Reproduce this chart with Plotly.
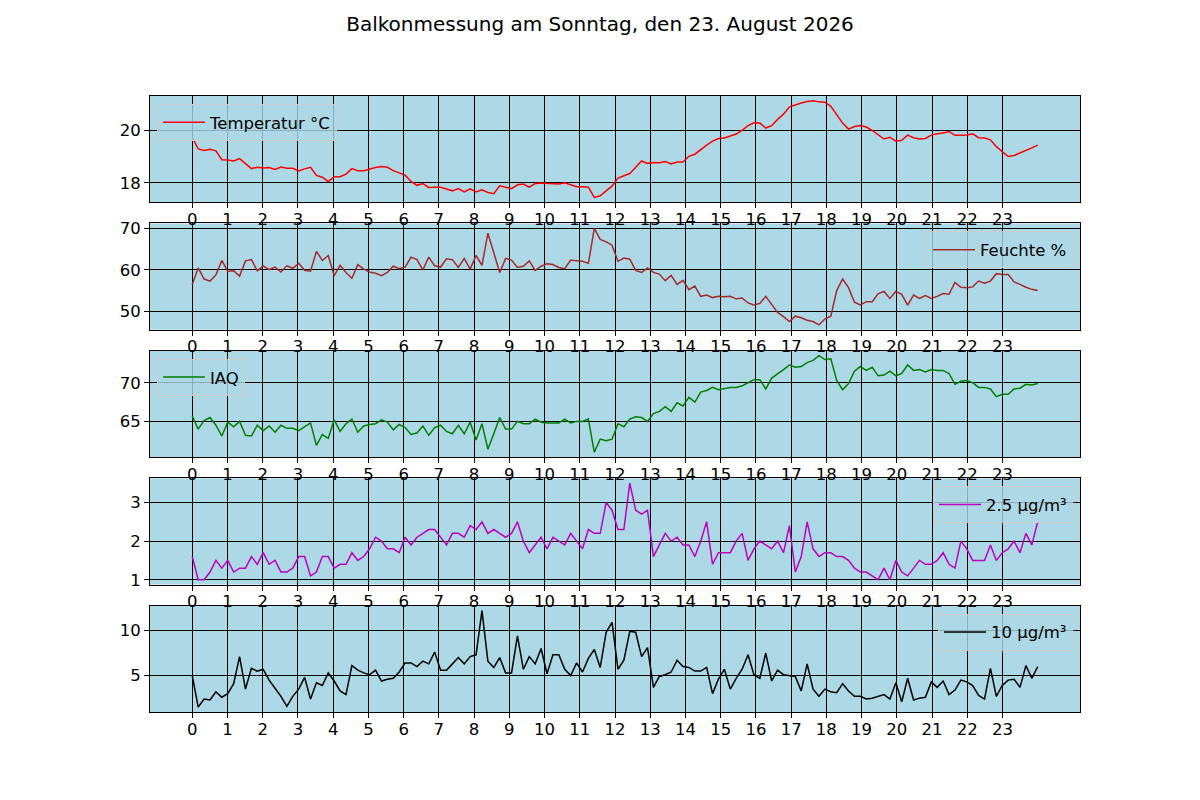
import plotly.graph_objects as go
from plotly.subplots import make_subplots

# 1. DATEN (Messung alle ~10 Minuten, 144 Werte)
ZEIT = [i * 24 / 143 for i in range(144)]
STUNDEN = list(range(24))

TEMPERATUR = [
    19.74, 19.29, 19.23, 19.28, 19.22, 18.88, 18.87, 18.83, 18.92, 18.73,
    18.54, 18.59, 18.56, 18.58, 18.51, 18.60, 18.55, 18.55, 18.45, 18.53,
    18.59, 18.28, 18.21, 18.04, 18.23, 18.23, 18.33, 18.54, 18.46, 18.46,
    18.53, 18.58, 18.62, 18.59, 18.46, 18.38, 18.29, 18.05, 17.90, 17.97,
    17.82, 17.83, 17.83, 17.76, 17.69, 17.78, 17.65, 17.77, 17.65, 17.73,
    17.63, 17.58, 17.88, 17.83, 17.77, 17.92, 17.95, 17.83, 17.97, 17.99,
    17.97, 17.96, 17.95, 18.00, 17.91, 17.85, 17.85, 17.83, 17.44, 17.50,
    17.69, 17.87, 18.18,
    18.26, 18.35, 18.59, 18.83, 18.74, 18.77, 18.76, 18.81, 18.72,
    18.79, 18.79, 19.01, 19.09, 19.28, 19.44, 19.59, 19.69, 19.71, 19.79,
    19.86, 20.00, 20.18, 20.29, 20.28, 20.09, 20.18, 20.42, 20.62, 20.90,
    20.99, 21.05, 21.10, 21.13, 21.09, 21.08, 20.92, 20.59, 20.28, 20.05,
    20.15, 20.19, 20.13, 20.00, 19.83, 19.67, 19.74, 19.59, 19.62, 19.82,
    19.72, 19.67, 19.69, 19.82, 19.87, 19.90, 19.96, 19.81, 19.81, 19.82,
    19.87, 19.72, 19.71, 19.64, 19.38, 19.18, 19.00, 19.04, 19.13, 19.23,
    19.33, 19.44,
]

FEUCHTE = [
    56.5, 60.5, 57.8, 57.3, 58.8, 62.3, 59.7, 59.8, 58.5, 62.2,
    62.5, 59.8, 61.0, 60.1, 60.7, 59.5, 61.0, 60.4, 61.6, 59.9,
    59.7, 64.5, 62.3, 63.5, 58.6, 61.1, 59.4, 58.0, 61.3, 60.2,
    59.5, 59.2, 58.6, 59.4, 60.9, 60.3, 60.7, 63.1, 62.5, 60.0,
    63.1, 61.0, 60.7, 62.7, 62.5, 60.6, 62.8, 60.2, 63.5, 61.1,
    68.9, 64.1, 59.4, 62.8, 62.4, 60.6, 60.9, 62.2, 59.9, 60.9,
    61.5, 61.3, 60.6, 60.3, 62.4, 62.2, 62.1, 61.6, 70.1, 67.4,
    66.8, 66.0, 62.1,
    62.9, 62.6, 59.9, 59.4, 60.5, 59.4, 59.0, 57.4, 58.7, 56.5,
    57.5, 55.2, 56.1, 53.6, 53.9, 53.3, 53.6, 53.5, 53.6, 53.0,
    53.2, 52.0, 51.5, 51.9, 53.6, 51.5, 49.7, 48.7, 47.5, 48.8,
    48.4, 47.8, 47.5, 46.7, 48.1, 48.8, 55.0, 57.8, 55.7, 52.2,
    51.5, 52.3, 52.3, 54.2, 54.8, 53.1, 54.8, 54.1, 51.5, 53.9,
    53.1, 53.8, 53.1, 53.6, 54.3, 54.1, 57.0, 55.8, 55.7, 55.9,
    57.3, 56.8, 57.3, 59.1, 58.9, 58.9, 57.1, 56.5, 55.8, 55.3,
    55.0,
]

IAQ = [
    65.7, 64.0, 65.1, 65.5, 64.5, 63.1, 64.9, 64.3, 65.0, 63.2,
    63.1, 64.5, 63.8, 64.4, 63.6, 64.5, 64.1, 64.1, 63.8, 64.3,
    64.8, 61.9, 63.3, 62.8, 65.2, 63.7, 64.7, 65.3, 63.6, 64.4,
    64.6, 64.7, 65.2, 64.9, 63.9, 64.6, 64.2, 63.3, 63.5, 64.4,
    63.2, 64.2, 64.5, 63.7, 63.4, 64.5, 63.4, 64.9, 62.6, 64.7,
    61.4, 63.4, 65.5, 64.0, 64.0, 65.0, 64.7, 64.7, 65.3, 64.9,
    64.8, 64.8, 64.8, 65.3, 64.8, 65.0, 65.0, 65.3, 61.0, 62.7,
    62.5, 62.7, 64.7,
    64.3, 65.3, 65.6, 65.5, 65.0, 66.0, 66.3, 66.9, 66.3,
    67.4, 67.0, 68.1, 67.5, 68.8, 69.0, 69.4, 69.1, 69.3, 69.4,
    69.4, 69.6, 70.0, 70.4, 70.4, 69.2, 70.6, 71.1, 71.7, 72.3,
    72.0, 72.1, 72.6, 72.9, 73.5, 73.0, 73.1, 70.3, 69.1, 69.9,
    71.5, 72.1, 71.6, 72.0, 70.9, 71.0, 71.5, 70.9, 71.2, 72.3,
    71.6, 71.7, 71.4, 71.7, 71.6, 71.6, 71.2, 69.8, 70.2, 70.3,
    70.0, 69.4, 69.4, 69.2, 68.2, 68.5, 68.5, 69.2, 69.3, 69.8,
    69.7, 69.9,
]

PM25 = [
    1.6, 1.0, 1.0, 1.2, 1.5, 1.3, 1.5, 1.2, 1.3, 1.3,
    1.6, 1.4, 1.7, 1.4, 1.5, 1.2, 1.2, 1.3, 1.6, 1.6,
    1.1, 1.2, 1.6, 1.6, 1.3, 1.4, 1.4, 1.7, 1.5, 1.6,
    1.8, 2.1, 2.0, 1.8, 1.8, 1.7, 2.1, 1.9, 2.1, 2.2,
    2.3, 2.3, 2.1, 1.9, 2.2, 2.2, 2.1, 2.4, 2.3, 2.5,
    2.2, 2.3, 2.2, 2.1, 2.2, 2.5, 2.0, 1.7, 1.9, 2.1,
    1.8, 2.1, 2.0, 1.9, 2.2, 2.0, 1.8, 2.3, 2.2, 2.2,
    3.0, 2.8, 2.3,
    2.3, 3.5, 2.8, 2.7, 2.8, 1.6, 1.9, 2.2, 2.0, 2.1,
    1.9, 1.9, 1.6, 2.0, 2.5, 1.4, 1.7, 1.7, 1.7, 2.0,
    2.2, 1.5, 1.8, 2.0, 1.9, 1.8, 2.0, 1.7, 2.4, 1.2,
    1.6, 2.5, 1.8, 1.6, 1.7, 1.7, 1.6, 1.6, 1.5, 1.3,
    1.2, 1.2, 1.1, 1.0, 1.3, 1.0, 1.5, 1.2, 1.1, 1.3,
    1.5, 1.4, 1.4, 1.5, 1.7, 1.4, 1.3, 2.0, 1.8, 1.5,
    1.5, 1.5, 1.9, 1.5, 1.7, 1.8, 2.0, 1.7, 2.2, 1.9,
    2.5,
]

PM10 = [
    5.0, 1.5, 2.4, 2.3, 3.2, 2.6, 3.0, 4.1, 7.1, 3.5,
    5.8, 5.5, 5.7, 4.5, 3.6, 2.7, 1.6, 2.7, 3.5, 4.8,
    2.4, 4.2, 3.9, 5.3, 4.4, 3.3, 2.9, 6.1, 5.6, 5.3,
    5.1, 5.6, 4.4, 4.6, 4.7, 5.4, 6.4, 6.4, 6.0, 6.6,
    6.3, 7.6, 5.6, 5.6, 6.3, 7.0, 6.3, 7.1, 7.3, 12.2,
    6.6, 5.9, 7.0, 5.3, 5.3, 9.4, 5.7, 7.1, 6.3, 8.0,
    5.2, 7.3, 7.3, 5.7, 5.0, 6.4, 5.4, 6.9, 7.9, 5.9,
    9.8, 10.9, 5.7,
    6.7, 9.9, 9.8, 7.1, 8.1, 3.7, 4.9, 5.1, 5.4, 6.7,
    6.0, 5.9, 5.5, 5.5, 5.9, 3.0, 4.6, 5.7, 3.5, 4.7,
    5.7, 7.3, 5.1, 4.7, 7.5, 4.4, 5.6, 5.1, 5.0, 4.9,
    3.3, 6.3, 3.5, 2.7, 3.5, 3.2, 3.1, 4.1, 3.3, 2.7,
    2.7, 2.4, 2.5, 2.7, 2.9, 2.4, 4.2, 2.1, 4.7, 2.3,
    2.5, 2.6, 4.3, 3.7, 4.4, 2.9, 3.4, 4.5, 4.3, 3.9,
    2.8, 2.4, 5.8, 2.7, 3.9, 4.5, 4.6, 3.7, 6.1, 4.7,
    6.0,
]

# 2. PANELS: name, werte, farbe, tickabstand, legende links?
PANELS = [
    ("Temperatur °C", TEMPERATUR, "red", 2, True),
    ("Feuchte %", FEUCHTE, "brown", 10, False),
    ("IAQ", IAQ, "green", 5, True),
    ("2.5 µg/m³", PM25, "#bf00bf", 1, False),
    ("10 µg/m³", PM10, "black", 5, False),
]

# matplotlib-Standardlayout nachbauen (left .125, right .9, bottom .11, top .88, hspace .2)
# die Seite hat 8px Rand -> alles um 8px nach links/oben schieben
OX = 8 / 1200
OY = 8 / 800
H = 0.77 / 5.8
GAP = 0.2 * H

fig = make_subplots(rows=5, cols=1)
legenden = {}

for k, (name, werte, farbe, dtick, links) in enumerate(PANELS):
    leg = "legend" if k == 0 else f"legend{k + 1}"
    top = 0.88 - k * (H + GAP) + OY

    fig.add_trace(go.Scatter(
        x=ZEIT, y=werte, mode="lines", name=name, legend=leg,
        line=dict(color=farbe, width=1.5)
    ), row=k + 1, col=1)

    lo, hi = min(werte), max(werte)
    pad = 0.05 * (hi - lo)
    fig.update_yaxes(domain=[top - H, top], range=[lo - pad, hi + pad],
                     dtick=dtick, row=k + 1, col=1)

    legenden[leg] = dict(
        x=0.125 - OX + 7 / 1200 if links else 0.9 - OX - 7 / 1200,
        xanchor="left" if links else "right",
        y=top - 8 / 800, yanchor="top",
        bgcolor="rgba(173,216,230,0.8)", bordercolor="#cccccc", borderwidth=1,
        itemwidth=42,
        font=dict(size=16.5, color="black"),
    )

achse = dict(ticks="outside", ticklen=5, tickcolor="black", showgrid=True,
             gridcolor="black", gridwidth=1, showline=True, linecolor="black",
             linewidth=1, mirror=True, zeroline=False, automargin=False,
             tickfont=dict(size=16.5, color="black"))

fig.update_xaxes(domain=[0.125 - OX, 0.9 - OX], range=[-1.2, 25.2],
                 tickvals=STUNDEN, ticklabelstandoff=-3, **achse)
fig.update_yaxes(**achse)

fig.update_layout(
    width=1200, height=800,
    margin=dict(l=0, r=0, t=0, b=0),
    paper_bgcolor="white", plot_bgcolor="#add8e6",
    font=dict(family="DejaVu Sans", color="black"),
    showlegend=True,
    title=dict(text="Balkonmessung am Sonntag, den 23. August 2026",
               x=0.5 - OX, xanchor="center", y=1 - 9 / 800, yanchor="top",
               font=dict(size=20, color="black")),
    **legenden
)

fig.write_html("out.html")
